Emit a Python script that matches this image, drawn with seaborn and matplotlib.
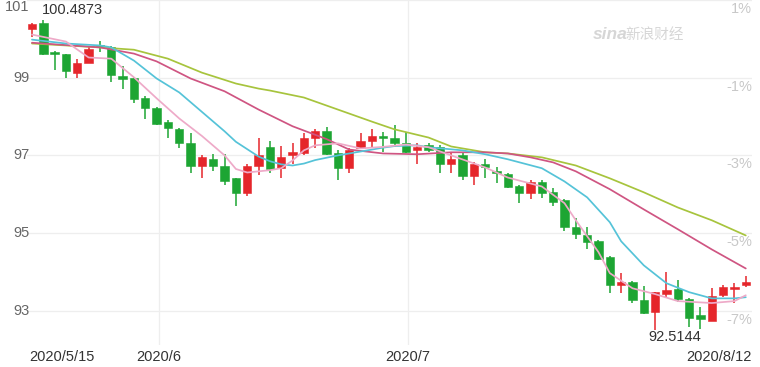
import seaborn as sns
import matplotlib.pyplot as plt
import matplotlib.transforms as mtransforms
import pandas as pd
import numpy as np

# daily candles, one per weekday 2020/5/15 .. 2020/8/12
dates = pd.bdate_range('2020-05-15', '2020-08-12')
opens = [100.25, 100.42, 99.67, 99.60, 99.13, 99.39, 99.82, 99.78, 99.05, 98.98,
         98.47, 98.23, 97.85, 97.67, 97.31, 96.74, 96.90, 96.72, 96.41, 96.02,
         96.74, 97.21, 96.67, 97.00, 97.05, 97.46, 97.64, 97.05, 96.67, 97.18,
         97.36, 97.49, 97.46, 97.33, 97.15, 97.26, 97.21, 96.77, 97.00, 96.46,
         96.79, 96.61, 96.51, 96.20, 96.02, 96.31, 96.05, 95.84, 95.17, 94.95,
         94.79, 94.38, 93.66, 93.74, 93.27, 92.96, 93.43, 93.56, 93.30, 92.88,
         92.73, 93.40, 93.56, 93.66]
highs = [100.42, 100.4873, 99.70, 99.62, 99.49, 99.78, 99.95, 99.82, 99.31, 99.03,
         98.52, 98.25, 97.90, 97.70, 97.57, 97.00, 97.03, 97.03, 96.43, 96.79,
         97.44, 97.36, 97.23, 97.31, 97.57, 97.69, 97.72, 97.13, 97.18, 97.57,
         97.67, 97.59, 97.77, 97.59, 97.33, 97.33, 97.26, 97.08, 97.05, 96.82,
         96.92, 96.69, 96.56, 96.23, 96.36, 96.36, 96.15, 95.87, 95.38, 95.15,
         94.82, 94.41, 93.97, 93.76, 93.63, 93.48, 93.99, 93.79, 93.33, 93.09,
         93.58, 93.66, 93.71, 93.89]
lows = [100.05, 99.58, 99.21, 99.00, 99.00, 99.37, 99.65, 98.88, 98.70, 98.34,
        97.93, 97.77, 97.44, 97.18, 96.54, 96.43, 96.61, 96.23, 95.69, 95.95,
        96.49, 96.54, 96.41, 96.79, 97.00, 97.18, 97.00, 96.36, 96.54, 97.18,
        97.21, 97.10, 97.21, 97.05, 96.79, 97.10, 96.54, 96.56, 96.36, 96.23,
        96.43, 96.28, 96.15, 95.77, 95.87, 95.90, 95.71, 95.05, 94.84, 94.58,
        94.30, 93.45, 93.45, 93.19, 92.92, 92.5144, 93.33, 93.22, 92.58, 92.53,
        92.73, 93.35, 93.20, 93.61]
closes = [100.38, 99.60, 99.60, 99.16, 99.39, 99.75, 99.79, 99.06, 98.97, 98.44,
          98.23, 97.80, 97.70, 97.31, 96.74, 96.95, 96.72, 96.33, 96.02, 96.74,
          97.00, 96.64, 96.97, 97.08, 97.46, 97.64, 97.03, 96.67, 97.13, 97.36,
          97.51, 97.44, 97.33, 97.08, 97.21, 97.15, 96.77, 96.92, 96.46, 96.79,
          96.69, 96.54, 96.18, 96.02, 96.31, 96.02, 95.79, 95.15, 94.97, 94.77,
          94.33, 93.66, 93.74, 93.27, 92.94, 93.48, 93.53, 93.30, 92.81, 92.79,
          93.38, 93.61, 93.61, 93.74]

# moving average lines at candle positions
ma5_idx = [0, 3, 5, 7, 9, 11, 13, 15, 17, 18, 19, 21, 22, 23, 24, 25, 27, 29, 31, 33,
           35, 37, 40, 42, 45, 47, 48, 50, 51, 53, 55, 57, 60, 62, 63]
ma5_val = [100.11, 99.93, 99.52, 99.49, 99.01, 98.47, 97.95, 97.50, 97.00, 96.65,
           96.56, 96.62, 96.67, 96.87, 97.13, 97.26, 97.31, 97.18, 97.22, 97.28,
           97.21, 97.00, 96.69, 96.43, 96.20, 95.77, 95.33, 94.51, 93.97, 93.58,
           93.43, 93.25, 93.20, 93.25, 93.40]
ma10_idx = [0, 3, 6, 7, 9, 11, 13, 15, 17, 18, 20, 21, 22, 23, 24, 25, 27, 29, 31, 32,
            34, 35, 38, 40, 42, 45, 47, 49, 51, 52, 54, 56, 58, 60, 62, 63]
ma10_val = [99.98, 99.88, 99.83, 99.78, 99.44, 98.98, 98.62, 98.12, 97.62, 97.35,
            96.97, 96.85, 96.77, 96.74, 96.79, 96.88, 97.00, 97.10, 97.20, 97.24,
            97.26, 97.21, 97.13, 97.03, 96.90, 96.67, 96.33, 95.92, 95.28, 94.79,
            94.17, 93.71, 93.48, 93.32, 93.32, 93.35]
ma20_idx = [0, 6, 9, 11, 14, 17, 20, 23, 26, 28, 31, 34, 37, 40, 42, 44, 46,
            48, 51, 54, 57, 60, 63]
ma20_val = [99.90, 99.78, 99.62, 99.42, 98.98, 98.65, 98.18, 97.75, 97.42, 97.15,
            97.05, 97.03, 97.08, 97.08, 97.05, 96.95, 96.82, 96.59,
            96.13, 95.61, 95.10, 94.58, 94.09]
ma30_idx = [0, 6, 9, 12, 15, 18, 20, 21, 24, 27, 30, 32, 35, 37, 40, 42, 45, 48, 51,
            54, 57, 60, 63]
ma30_val = [99.88, 99.78, 99.72, 99.49, 99.13, 98.85, 98.72, 98.67, 98.49, 98.18,
            97.87, 97.67, 97.46, 97.23, 97.08, 97.05, 96.95, 96.74, 96.41, 96.05,
            95.66, 95.33, 94.94]

price_ticks = [101, 99, 97, 95, 93]
pct_labels = ['1%', '-1%', '-3%', '-5%', '-7%']
date_labels = ['2020/5/15', '2020/6', '2020/7', '2020/8/12']
date_keys = ['2020-05-15', '2020-06-01', '2020-07-01', '2020-08-12']

RED = '#e5262b'
GREEN = '#1da533'

sns.set_style('white')
plt.rcParams['font.family'] = ['Liberation Sans', 'Noto Sans CJK SC', 'DejaVu Sans']

fig = plt.figure(figsize=(7.6, 3.67), dpi=100)
ax = fig.add_axes([27 / 760, 22 / 367, 725 / 760, 345 / 367])

df = pd.DataFrame({'date': dates, 'open': opens, 'high': highs, 'low': lows, 'close': closes})
df['pos'] = np.arange(len(df))
df['color'] = np.where(df['close'] >= df['open'], RED, GREEN)
df['bottom'] = df[['open', 'close']].min(axis=1)
df['height'] = (df['close'] - df['open']).abs().clip(lower=0.04)

# grid
for v in price_ticks:
    ax.axhline(v, color='#eeeeee', lw=0.9, zorder=0)
pos_of = {d.strftime('%Y-%m-%d'): i for i, d in enumerate(dates)}
for key in date_keys[1:3]:
    ax.axvline(pos_of[key] + 0.2, color='#eeeeee', lw=0.9, zorder=0)

# candles
ax.vlines(df['pos'], df['low'], df['high'], colors=df['color'], lw=1.1, zorder=2)
ax.bar(df['pos'], df['height'], bottom=df['bottom'], width=0.74,
       color=df['color'], edgecolor=df['color'], lw=0.4, zorder=3)

# moving averages
for idx, val, col in [(ma30_idx, ma30_val, '#a7c43d'),
                      (ma20_idx, ma20_val, '#cf5582'),
                      (ma10_idx, ma10_val, '#55c3d8'),
                      (ma5_idx, ma5_val, '#eeaac8')]:
    sns.lineplot(x=idx, y=val, ax=ax, color=col, lw=1.25, sort=False,
                 estimator=None, zorder=4)

ax.set_xlim(-0.44, 63.55)
ax.set_ylim(92.12, 101.0)
ax.set_xticks([])
ax.set_yticks([])
sns.despine(ax=ax, left=True, bottom=True)

# left price labels
ytrans = ax.get_yaxis_transform()
for v in price_ticks:
    ax.text(0.003, v, str(v), transform=ytrans, ha='right',
            va='top' if v == 101 else 'center', fontsize=10.5, color='#666666',
            clip_on=False)

# right percent labels
pct_trans = ytrans + mtransforms.ScaledTranslation(0, -2 / 100, fig.dpi_scale_trans)
for v, lab in zip(price_ticks, pct_labels):
    ax.text(1.0, v, lab, transform=pct_trans, ha='right', va='top',
            fontsize=10.5, color='#c8c8c8')

# date labels
for lab, key, ha in zip(date_labels, date_keys, ['left', 'center', 'center', 'right']):
    p = pos_of[key]
    if ha == 'left':
        p = -0.25
    elif ha == 'right':
        p = 63.55
    else:
        p = p + 0.2
    ax.annotate(lab, xy=(p, 0), xycoords=('data', 'axes fraction'),
                xytext=(0, -8.5), textcoords='offset points', ha=ha, va='center',
                fontsize=10.5, color='#333333', annotation_clip=False)

# max / min annotations
imax = int(np.argmax(highs))
imin = int(np.argmin(lows))
ax.annotate(f'{highs[imax]:.4f}', xy=(imax, highs[imax]), xytext=(-1, 2),
            textcoords='offset points', ha='left', va='bottom',
            fontsize=10.5, color='#333333')
ax.annotate(f'{lows[imin]:.4f}', xy=(imin, lows[imin]), xytext=(-5, -0.5),
            textcoords='offset points', ha='left', va='top',
            fontsize=10.5, color='#333333', annotation_clip=False)

# watermark
ax.text(0.78, 0.9, 'sina', transform=ax.transAxes, fontsize=12.5, fontstyle='italic',
        fontweight='bold', color='#d6d6d6', ha='left', va='center')
ax.text(0.826, 0.9, '新浪财经', transform=ax.transAxes, fontsize=10.5,
        family=['Noto Sans CJK SC'], color='#d6d6d6', ha='left', va='center')

fig.savefig('out.png', dpi=100)
